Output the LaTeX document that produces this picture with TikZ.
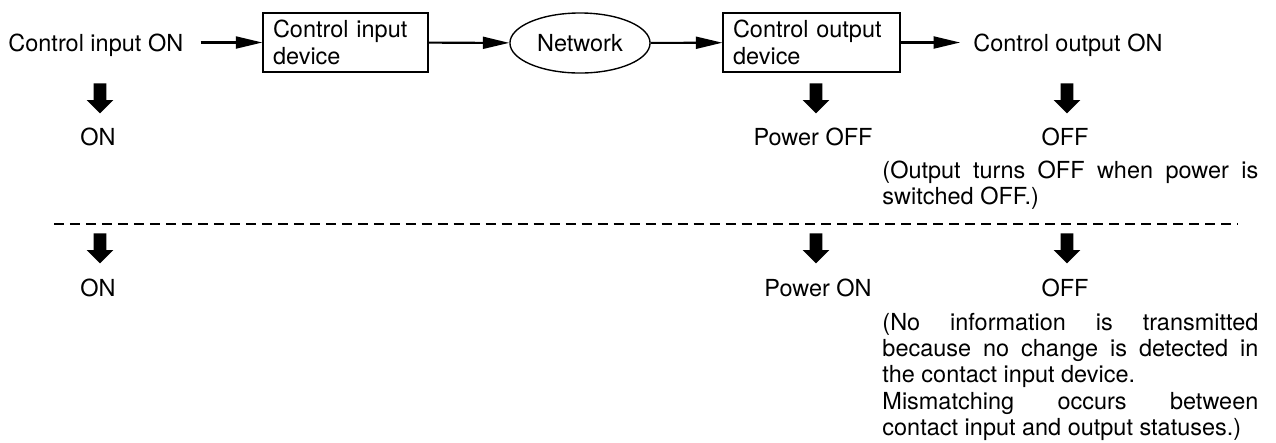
\documentclass[tikz,border=0pt]{standalone}
\usepackage{fontspec}
\setmainfont{TeX Gyre Heros}
\usepackage{tikz}
\usetikzlibrary{arrows.meta, positioning, shapes.geometric, shapes.arrows}

\begin{document}
\begin{tikzpicture}[
    x=0.4347pt, y=-0.4347pt,
    font=\fontsize{10.2}{11.5}\selectfont,
    box/.style={rectangle, draw, line width=0.6pt, minimum height=25.6pt,
                inner xsep=4.35pt, inner ysep=0pt, align=left},
    netw/.style={ellipse, draw, line width=0.6pt, minimum width=60.9pt,
                 minimum height=26.1pt, inner sep=0pt},
    sig/.style={anchor=base west, inner sep=0pt},
    state/.style={anchor=base, inner sep=0pt},
    note/.style={anchor=base west, inner sep=0pt, text width=163.4pt,
                 align=justify},
    flow/.style={-{Triangle[length=11.5pt, width=5.2pt]}, line width=0.9pt},
    bigdown/.style={single arrow, fill=black, inner sep=2.6pt,
                    minimum height=13pt, minimum width=11.3pt,
                    single arrow head extend=3pt, shape border rotate=270,
                    anchor=tail},
    sep/.style={line width=0.6pt, dash pattern=on 4.35pt off 2.6pt},
]
    \useasboundingbox (0,0) rectangle (1276,442);

    % signal path
    \node[sig] (ctlin) at (8,51) {Control input ON};
    \node[box, text width=63pt] (indev) at (345.5,42.5) {Control input\\device};
    \node[netw] (net) at (580,43) {Network};
    \node[box, text width=68.2pt] (outdev) at (811.5,42.5) {Control output\\device};
    \node[sig] (ctlout) at (973,51) {Control output ON};

    \draw[flow, shorten <=7.4pt] (ctlin.east |- indev.west) -- (indev.west);
    \draw[flow] (indev) -- (net);
    \draw[flow] (net) -- (outdev);
    \draw[flow, shorten >=5.6pt] (outdev.east) -- (outdev.east -| ctlout.west);

    % power switched OFF
    \node[bigdown] (dn1) at (100,83) {};
    \node[bigdown] (dn2) at (816,83) {};
    \node[bigdown] (dn3) at (1067,83) {};
    \node[state] (on1) at (98,145) {ON};
    \node[state] (poff) at (813,145) {Power OFF};
    \node[state] (off1) at (1065,145) {OFF};
    \node[note] (note1) at (882,178) {(Output turns OFF when power is switched OFF.)};

    \coordinate (dl) at (54,224);
    \coordinate (dr) at (1238,224);
    \draw[sep] (dl) -- (dr);

    % power switched ON again
    \node[bigdown] (dn4) at (100,233) {};
    \node[bigdown] (dn5) at (816,233) {};
    \node[bigdown] (dn6) at (1067,233) {};
    \node[state] (on2) at (98,296) {ON};
    \node[state] (pon) at (818,296) {Power ON};
    \node[state] (off2) at (1065,296) {OFF};
    \node[note] (note2) at (882,330) {(No information is transmitted\linebreak
        because no change is detected in\linebreak
        the contact input device.\\
        Mismatching occurs between\linebreak
        contact input and output statuses.)};
\end{tikzpicture}
\end{document}
